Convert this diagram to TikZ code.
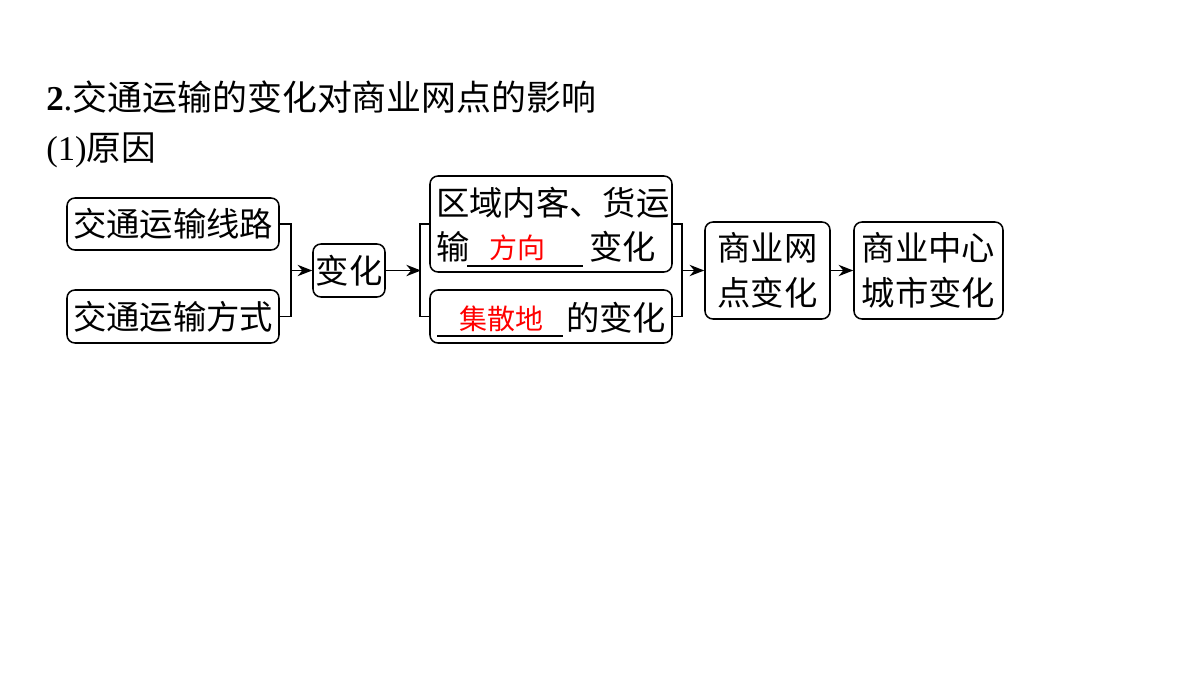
\documentclass[tikz,border=0pt]{standalone}
\usepackage{fontspec}
\setmainfont{Liberation Serif}
\newfontfamily\cjk{Noto Sans CJK SC}
\usetikzlibrary{arrows.meta}
\begin{document}
\begin{tikzpicture}[x=0.75pt,y=-0.75pt,
  box/.style={draw,line width=1.15pt,rounded corners=6pt,inner sep=0pt,font=\cjk\fontsize{25}{34}\selectfont,align=center},
  txt/.style={font=\cjk\fontsize{25}{30}\selectfont,inner sep=0pt},
  redtxt/.style={inner sep=0pt,font=\cjk\fontsize{21}{30}\selectfont,text=red},
  conn/.style={line width=1.15pt},
  arr/.style={line width=1.15pt,-{Stealth[length=11pt,width=8.5pt]}},
  uline/.style={line width=0.8pt}]
\useasboundingbox (0,0) rectangle (1200,675);
% titles
\node[anchor=west,inner sep=0pt,font=\fontsize{26.2}{30}\selectfont] (title) at (46,97) {\textbf{2}.{\cjk 交通运输的变化对商业网点的影响}};
\node[anchor=west,inner sep=0pt,font=\fontsize{26}{30}\selectfont] (sub) at (46,150) {(1){\cjk 原因}};
% boxes
\node[box,minimum width=212*0.75pt,minimum height=52*0.75pt] (a) at (173,224) {交通运输线路};
\node[box,minimum width=212*0.75pt,minimum height=53*0.75pt] (b) at (173,316.5) {交通运输方式};
\node[box,minimum width=72*0.75pt,minimum height=53*0.75pt] (c) at (349,270.5) {变化};
\node[box,minimum width=242*0.75pt,minimum height=96*0.75pt] (d) at (551,224) {};
\node[box,minimum width=242*0.75pt,minimum height=53*0.75pt] (e) at (551,316.5) {};
\node[box,minimum width=125*0.75pt,minimum height=97*0.75pt] (f) at (767.5,270.5) {商业网\\点变化};
\node[box,minimum width=149*0.75pt,minimum height=97*0.75pt] (g) at (928.5,270.5) {商业中心\\城市变化};
% texts in d
\node[txt,anchor=west] (d1) at (436,203) {区域内客、货运};
\node[txt,anchor=west] (d2) at (436,247) {输};
\node[redtxt] (d3) at (517,248) {方向};
\node[txt,anchor=west] (d4) at (589,247) {变化};
\coordinate (u1a) at (467,266);
\coordinate (u1b) at (583,266);
\draw[uline] (u1a) -- (u1b);
% texts in e
\node[redtxt] (e1) at (501,319) {集散地};
\node[txt,anchor=west] (e2) at (566,318) {的变化};
\coordinate (u2a) at (437,336);
\coordinate (u2b) at (563,336);
\draw[uline] (u2a) -- (u2b);
% connectors
\coordinate (j1) at (290,270.5);
\coordinate (j2) at (421,270.5);
\coordinate (j3) at (681,270.5);
\draw[conn] (a.east) -- ++(11,0) |- (b.east);
\draw[arr] (j1) -- (c.west);
\draw[arr] (c.east) -- (j2);
\draw[conn] (d.west) -- ++(-9,0) |- (e.west);
\draw[conn] (d.east) -- ++(9,0) |- (e.east);
\draw[arr] (j3) -- (f.west);
\draw[arr] (f.east) -- (g.west);
\end{tikzpicture}
\end{document}
